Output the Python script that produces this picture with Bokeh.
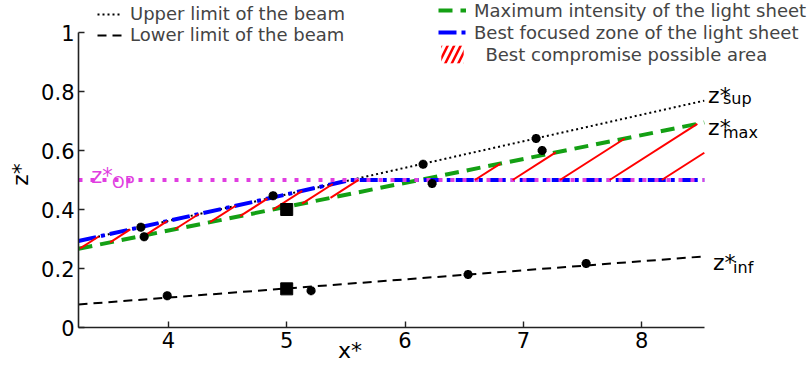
import numpy as np
from bokeh.plotting import figure
from bokeh.models import Range1d, FixedTicker, NumeralTickFormatter, Legend, LegendItem, ColumnDataSource
from bokeh.core.properties import value
from bokeh.embed import file_html
from bokeh.resources import INLINE

FONT = "DejaVu Sans"

# ---- data ----
upper_x = [3.24, 8.53]
upper_y = [0.293, 0.769]
lower_x = [3.24, 8.53]
lower_y = [0.078, 0.241]
maxint_x = [3.24, 8.53]
maxint_y = [0.267, 0.695]
focus_x = [3.24, 5.54, 8.53]
focus_y = [0.293, 0.5, 0.5]
zop_x = [3.24, 8.53]
zop_y = [0.5, 0.5]

meas_x = [3.767, 3.795, 3.99, 4.885, 5.206, 6.153, 6.229, 6.533, 7.108, 7.159, 7.531]
meas_y = [0.340, 0.308, 0.108, 0.447, 0.125, 0.553, 0.488, 0.180, 0.641, 0.600, 0.217]
sq_x = [5.0, 5.0]
sq_y = [0.400, 0.131]

# x where each hatch stroke of the compromise area leaves its lower edge
hatch_start_x = [3.254, 3.507, 3.803, 4.056, 4.352, 4.606, 4.885, 5.13, 5.37,
                 6.59, 6.91, 7.31, 7.73, 8.17]

x_ticks = [4, 5, 6, 7, 8]
y_ticks = [0, 0.2, 0.4, 0.6, 0.8, 1.0]

# ---- figure ----
W, H = 810, 370
LEFT = 78
BOTTOM = 43
PX_X = 118.3
PX_Y = 295.0
x0 = 3.24
p = figure(width=W, height=H, output_backend="svg", toolbar_location=None,
           x_range=Range1d(x0, x0 + (W - LEFT) / PX_X), y_range=Range1d(0, (H - BOTTOM) / PX_Y),
           min_border_left=LEFT, min_border_right=0, min_border_top=0, min_border_bottom=BOTTOM)
p.grid.visible = False
p.outline_line_color = None
p.background_fill_color = "white"

for ax in (p.xaxis, p.yaxis):
    ax.major_tick_in = 6
    ax.major_tick_out = 0
    ax.minor_tick_in = 0
    ax.minor_tick_out = 0
    ax.axis_line_width = 1.6
    ax.axis_line_color = "#222222"
    ax.major_tick_line_width = 1.4
    ax.major_tick_line_color = "#222222"
    ax.major_label_text_font = FONT
    ax.major_label_text_font_size = "21px"
    ax.major_label_text_color = "black"
    ax.major_label_standoff = 4
    ax.axis_label_text_font = FONT
    ax.axis_label_text_font_size = "22px"
    ax.axis_label_text_font_style = "normal"
    ax.axis_label_text_color = "black"
p.xaxis.ticker = FixedTicker(ticks=x_ticks)
p.yaxis.ticker = FixedTicker(ticks=y_ticks)
p.yaxis.formatter = NumeralTickFormatter(format="0.[0]")
p.xaxis.bounds = (upper_x[0], upper_x[-1])
p.yaxis.bounds = (0, 1)
p.xaxis.axis_label = "x*" + "\u00a0" * 27
p.xaxis.axis_label_standoff = -13
p.yaxis.axis_label = "z*" + "\u00a0" * 3
p.yaxis.axis_label_standoff = 5

# ---- lines ----
r_lower = p.line(lower_x, lower_y, line_color="black", line_width=2, line_dash="9 6")
r_upper = p.line(upper_x, upper_y, line_color="black", line_width=2, line_dash="2 3")
r_green = p.line(maxint_x, maxint_y, line_color="#14a014", line_width=4, line_dash="14 8")
r_blue = p.line(focus_x, focus_y, line_color="#0000ff", line_width=4, line_dash="18 5 4 5")
p.line(zop_x, zop_y, line_color="#e03ee0", line_width=4, line_dash="4 8")

# ---- hatch of the best compromise area ----
HATCH_SLOPE = 0.2567
def g(x):
    return np.interp(x, maxint_x, maxint_y)
def b(x):
    return np.interp(x, focus_x, focus_y)
hx0, hy0, hx1, hy1 = [], [], [], []
for xs0 in hatch_start_x:
    lo0 = float(min(g(xs0), b(xs0)))
    xs = np.linspace(xs0, maxint_x[-1], 4000)
    yl = lo0 + HATCH_SLOPE * (xs - xs0)
    hi = np.maximum(g(xs), b(xs))
    hit = np.nonzero(yl >= hi)[0]
    k = hit[0] if len(hit) else len(xs) - 1
    hx0.append(float(xs0)); hy0.append(lo0); hx1.append(float(xs[k])); hy1.append(float(yl[k]))
p.segment(hx0, hy0, hx1, hy1, line_color="red", line_width=2)
# zero-height area, only used to give the legend a hatched swatch
r_hatch = p.varea(x=[5.0, 5.01], y1=[0.5, 0.5], y2=[0.5, 0.5], fill_alpha=0,
                  hatch_pattern="/", hatch_color="red", hatch_weight=2.5, hatch_scale=13)

# ---- markers ----
p.scatter(meas_x, meas_y, marker="asterisk", size=9, line_color="black", line_width=3)
p.scatter(meas_x, meas_y, marker="circle", size=5, fill_color="black", line_color="black")
p.scatter(sq_x, sq_y, marker="square", size=12, fill_color="black", line_color="black")

# ---- curve labels ----
main_src = ColumnDataSource(dict(x=[8.562, 8.562, 8.604], y=[0.786, 0.678, 0.220], t=["z*", "z*", "z*"]))
sub_src = ColumnDataSource(dict(x=[8.688, 8.688, 8.773], y=[0.776, 0.661, 0.203], t=["sup", "max", "inf"]))
p.text(x="x", y="y", text="t", source=main_src, text_font=value(FONT), text_font_size="22px",
       text_color="black", text_baseline="alphabetic", text_align="left")
p.text(x="x", y="y", text="t", source=sub_src, text_font=value(FONT), text_font_size="16px",
       text_color="black", text_baseline="alphabetic", text_align="left")
p.text(x=[3.347], y=[0.515], text=["z*"], text_font=value(FONT), text_font_size="21px",
       text_color="#e03ee0", text_baseline="alphabetic", text_align="left")
p.text(x=[3.524], y=[0.492], text=["OP"], text_font=value(FONT), text_font_size="16px",
       text_color="#e03ee0", text_baseline="alphabetic", text_align="left")

# ---- legends ----
def style(leg, gw, lh):
    leg.label_text_font = FONT
    leg.label_text_font_size = "18px"
    leg.glyph_width = gw
    leg.glyph_height = lh
    leg.label_height = lh
    leg.label_standoff = 8
    leg.padding = 0
    leg.spacing = 0
    leg.margin = 0
    leg.border_line_color = None
    leg.background_fill_alpha = 0

leg1 = Legend(items=[LegendItem(label="Upper limit of the beam", renderers=[r_upper]),
                     LegendItem(label="Lower limit of the beam", renderers=[r_lower])],
              location=(19, 282))
style(leg1, 25, 20)
leg2 = Legend(items=[LegendItem(label="Maximum intensity of the light sheet", renderers=[r_green]),
                     LegendItem(label="Best focused zone of the light sheet", renderers=[r_blue]),
                     LegendItem(label="\u00a0\u00a0Best compromise possible area", renderers=[r_hatch])],
              location=(360, 262))
style(leg2, 28, 22)
p.add_layout(leg1)
p.add_layout(leg2)

open("out.html", "w").write(file_html(p, INLINE))
